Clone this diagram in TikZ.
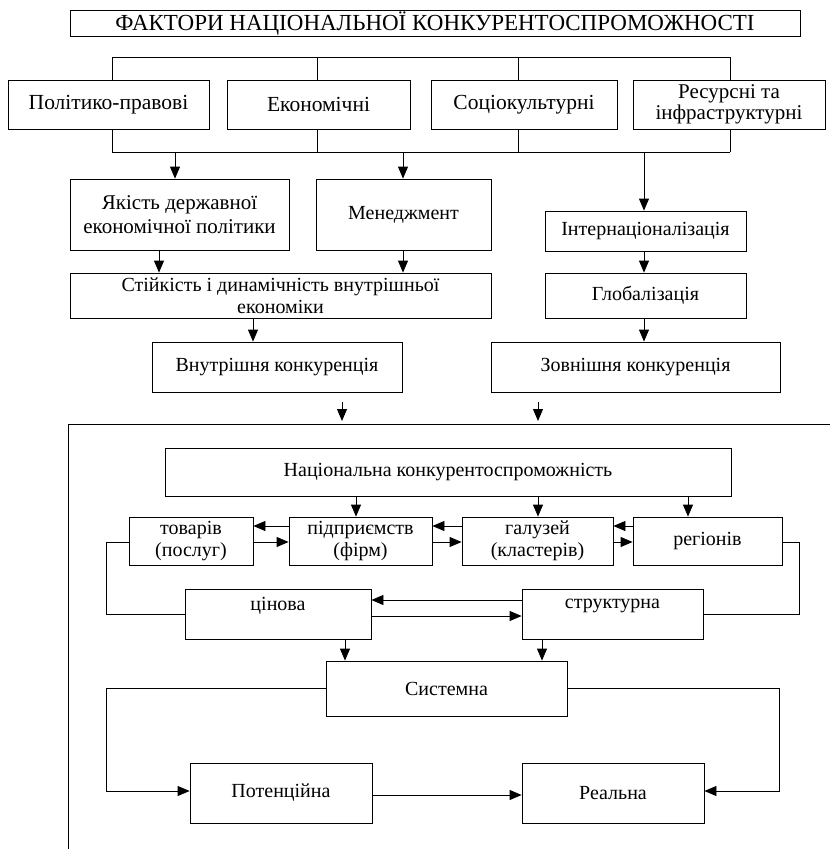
\documentclass[tikz,border=0pt]{standalone}
\usepackage{fontspec}
\setmainfont{Liberation Serif}
\usetikzlibrary{arrows.meta}
\tikzset{
  box/.style={draw, line width=0.8pt, inner sep=1pt, align=center, font=\fontsize{20}{22}\selectfont},
  bigbox/.style={box, font=\fontsize{21.5}{23}\selectfont},
  ln/.style={line width=0.8pt},
  arr/.style={line width=0.8pt, -{Triangle[length=12pt,width=10pt]}},
}
\begin{document}
\begin{tikzpicture}[x=1pt,y=-1pt]
\fill[white] (0,0) rectangle (830,849);
\useasboundingbox (0,0) rectangle (830,849);
% title
\node[box, minimum width=730, minimum height=23, font=\fontsize{23}{25}\selectfont] (title) at (435,23.5) {ФАКТОРИ НАЦІОНАЛЬНОЇ КОНКУРЕНТОСПРОМОЖНОСТІ};
% row 1
\node[bigbox, minimum width=201, minimum height=49] (pol) at (108.5,104.5) {Політико-правові};
\node[bigbox, minimum width=183, minimum height=49] (eco) at (318.5,104.5) {Економічні};
\node[bigbox, minimum width=186, minimum height=49] (soc) at (524,104.5) {Соціокультурні};
\node[bigbox, minimum width=192, minimum height=49, font=\fontsize{21}{21}\selectfont] (res) at (729,104.5) {Ресурсні та\\інфраструктурні};
% buses
\coordinate (ta) at (112,57);
\coordinate (tb) at (317,57);
\coordinate (tc) at (518,57);
\coordinate (td) at (730,57);
\draw[ln] (ta) -- (td);
\foreach \c/\n in {ta/pol,tb/eco,tc/soc,td/res} \draw[ln] (\c) -- (\c |- \n.north);
\coordinate (ba) at (112,152);
\coordinate (bb) at (317,152);
\coordinate (bc) at (518,152);
\coordinate (bd) at (730,152);
\draw[ln] (ba) -- (bd);
\foreach \c/\n in {ba/pol,bb/eco,bc/soc,bd/res} \draw[ln] (\c) -- (\c |- \n.south);
% row 2
\node[bigbox, minimum width=219, minimum height=71, font=\fontsize{21}{24}\selectfont] (yak) at (179.5,214.5) {Якість державної\\економічної політики};
\node[box, minimum width=175, minimum height=71] (men) at (403.5,214.5) {Менеджмент};
\node[box, minimum width=201, minimum height=40] (int) at (645.5,231) {Інтернаціоналізація};
\coordinate (a1) at (175,152);
\coordinate (a2) at (403,152);
\coordinate (a3) at (644,152);
\draw[arr] (a1) -- (a1 |- yak.north);
\draw[arr] (a2) -- (a2 |- men.north);
\draw[arr] (a3) -- (a3 |- int.north);
% row 3
\node[box, minimum width=421, minimum height=45] (sti) at (280.5,295.5) {Стійкість і динамічність внутрішньої\\економіки};
\node[box, minimum width=201, minimum height=45] (glo) at (645.5,295.5) {Глобалізація};
\coordinate (c1) at (159,0);
\coordinate (c2) at (403,0);
\coordinate (c3) at (644,0);
\draw[arr] (c1 |- yak.south) -- (c1 |- sti.north);
\draw[arr] (c2 |- men.south) -- (c2 |- sti.north);
\draw[arr] (c3 |- int.south) -- (c3 |- glo.north);
% row 4
\node[box, minimum width=250, minimum height=50] (vnu) at (277,367) {Внутрішня конкуренція};
\node[box, minimum width=289, minimum height=50] (zov) at (635.5,367) {Зовнішня конкуренція};
\coordinate (d1) at (253,0);
\draw[arr] (d1 |- sti.south) -- (d1 |- vnu.north);
\draw[arr] (c3 |- glo.south) -- (c3 |- zov.north);
% frame
\coordinate (fl) at (68,849);
\coordinate (fc) at (68,424);
\coordinate (fr) at (830,424);
\draw[ln] (fl) -- (fc) -- (fr);
\coordinate (e1) at (342,402);
\coordinate (e2) at (538,402);
\coordinate (et) at (0,421);
\draw[arr] (e1) -- (e1 |- et);
\draw[arr] (e2) -- (e2 |- et);
% national
\node[box, minimum width=566, minimum height=48] (nat) at (448,472) {Національна конкурентоспроможність};
\node[box, minimum width=124, minimum height=48] (tov) at (191,541) {товарів\\(послуг)};
\node[box, minimum width=143, minimum height=48] (pid) at (360.5,541) {підприємств\\(фірм)};
\node[box, minimum width=151, minimum height=48] (gal) at (537.5,541) {галузей\\(кластерів)};
\node[box, minimum width=149, minimum height=48] (reg) at (707.5,541) {регіонів};
\coordinate (g1) at (356,0);
\coordinate (g2) at (538,0);
\coordinate (g3) at (688,0);
\draw[arr] (g1 |- nat.south) -- (g1 |- pid.north);
\draw[arr] (g2 |- nat.south) -- (g2 |- gal.north);
\draw[arr] (g3 |- nat.south) -- (g3 |- reg.north);
\coordinate (hu) at (0,526);
\coordinate (hd) at (0,542);
\draw[arr] (pid.west |- hu) -- (tov.east |- hu);
\draw[arr] (tov.east |- hd) -- (pid.west |- hd);
\draw[arr] (gal.west |- hu) -- (pid.east |- hu);
\draw[arr] (pid.east |- hd) -- (gal.west |- hd);
\draw[arr] (reg.west |- hu) -- (gal.east |- hu);
\draw[arr] (gal.east |- hd) -- (reg.west |- hd);
% price / structure
\node[box, minimum width=186, minimum height=50] (cin) at (278,614) {\raisebox{20pt}{цінова}};
\node[box, minimum width=181, minimum height=50] (str) at (612.5,614) {\raisebox{20pt}{структурна}};
\coordinate (kl) at (106,0);
\coordinate (kr) at (799,0);
\coordinate (ky) at (0,614);
\draw[ln] (tov.west |- hd) -- (kl |- hd) -- (kl |- ky) -- (cin.west |- ky);
\draw[ln] (reg.east |- hd) -- (kr |- hd) -- (kr |- ky) -- (str.east |- ky);
\coordinate (mu) at (0,600);
\coordinate (md) at (0,616);
\draw[arr] (str.west |- mu) -- (cin.east |- mu);
\draw[arr] (cin.east |- md) -- (str.west |- md);
% system
\node[box, minimum width=241, minimum height=55] (sys) at (446.5,688.5) {Системна};
\coordinate (s1) at (345,0);
\coordinate (s2) at (542,0);
\draw[arr] (s1 |- cin.south) -- (s1 |- sys.north);
\draw[arr] (s2 |- str.south) -- (s2 |- sys.north);
% potential / real
\node[box, minimum width=182, minimum height=60] (pot) at (281,793) {Потенційна};
\node[box, minimum width=182, minimum height=60] (rea) at (613,793) {Реальна};
\coordinate (pl) at (106,0);
\coordinate (pr) at (779,0);
\coordinate (py) at (0,791);
\coordinate (pz) at (0,795);
\draw[arr] (sys.west) -- (pl |- sys.west) -- (pl |- py) -- (pot.west |- py);
\draw[arr] (sys.east) -- (pr |- sys.east) -- (pr |- py) -- (rea.east |- py);
\draw[arr] (pot.east |- pz) -- (rea.west |- pz);
\end{tikzpicture}
\end{document}
